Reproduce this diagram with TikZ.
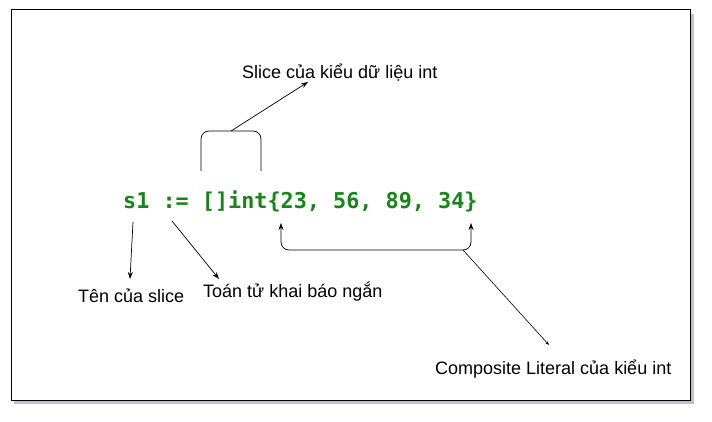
\documentclass[tikz,border=0pt]{standalone}
\usepackage{fontspec}
\setmainfont{Liberation Sans}
\newfontfamily\codefont{DejaVu Sans Mono}
\usetikzlibrary{arrows.meta}
\definecolor{codegreen}{RGB}{22,134,22}
\definecolor{shadowc}{RGB}{190,192,205}
\tikzset{
  lbl/.style={font=\fontsize{18}{21}\selectfont, inner sep=0pt, anchor=west},
  conn/.style={draw=black, line width=0.7pt, -{Stealth[length=7pt,width=5pt]}},
  brk/.style={draw=black, line width=0.7pt, rounded corners=8pt}
}
\begin{document}
\begin{tikzpicture}[x=1pt,y=-1pt]
\useasboundingbox (0,0) rectangle (712,422);
% frame with shadow
\fill[shadowc] (14,14) rectangle (694,404);
\draw[fill=white, line width=1pt] (11,10) rectangle (690,400);
% code
\node[font=\codefont\bfseries\fontsize{21.8}{24}\selectfont, text=codegreen, inner sep=0pt, anchor=base west] (code) at (123,209) {s1 := []int\{23, 56, 89, 34\}};
% labels
\node[lbl] (slice) at (242,73) {Slice của kiểu dữ liệu int};
\node[lbl] (ten) at (78,296) {Tên của slice};
\node[lbl] (toan) at (203,292) {Toán tử khai báo ngắn};
\node[lbl] (comp) at (435,369) {Composite Literal của kiểu int};
% upper bracket
\coordinate (b1) at (201,171);
\coordinate (b2) at (261,171);
\coordinate (bm) at (231,131);
\draw[brk] (b1) -- (201,131) -- (261,131) -- (b2);
\coordinate (sliceTip) at (308,82);
\draw[conn] (bm) -- (sliceTip);
% s1 arrow
\coordinate (s1a) at (133,222);
\coordinate (s1b) at (130,279);
\draw[conn] (s1a) -- (s1b);
% := arrow
\coordinate (opa) at (172,221);
\coordinate (opb) at (219,279);
\draw[conn] (opa) -- (opb);
% lower bracket
\coordinate (l1) at (281,223);
\coordinate (l2) at (471,223);
\coordinate (lm) at (463,250);
\draw[brk, {Stealth[length=7pt,width=5pt]}-{Stealth[length=7pt,width=5pt]}] (l1) -- (281,250) -- (471,250) -- (l2);
\coordinate (compTip) at (549,345);
\draw[line width=0.6pt, -{Stealth[length=4pt,width=3pt]}] (lm) -- (compTip);
\end{tikzpicture}
\end{document}
